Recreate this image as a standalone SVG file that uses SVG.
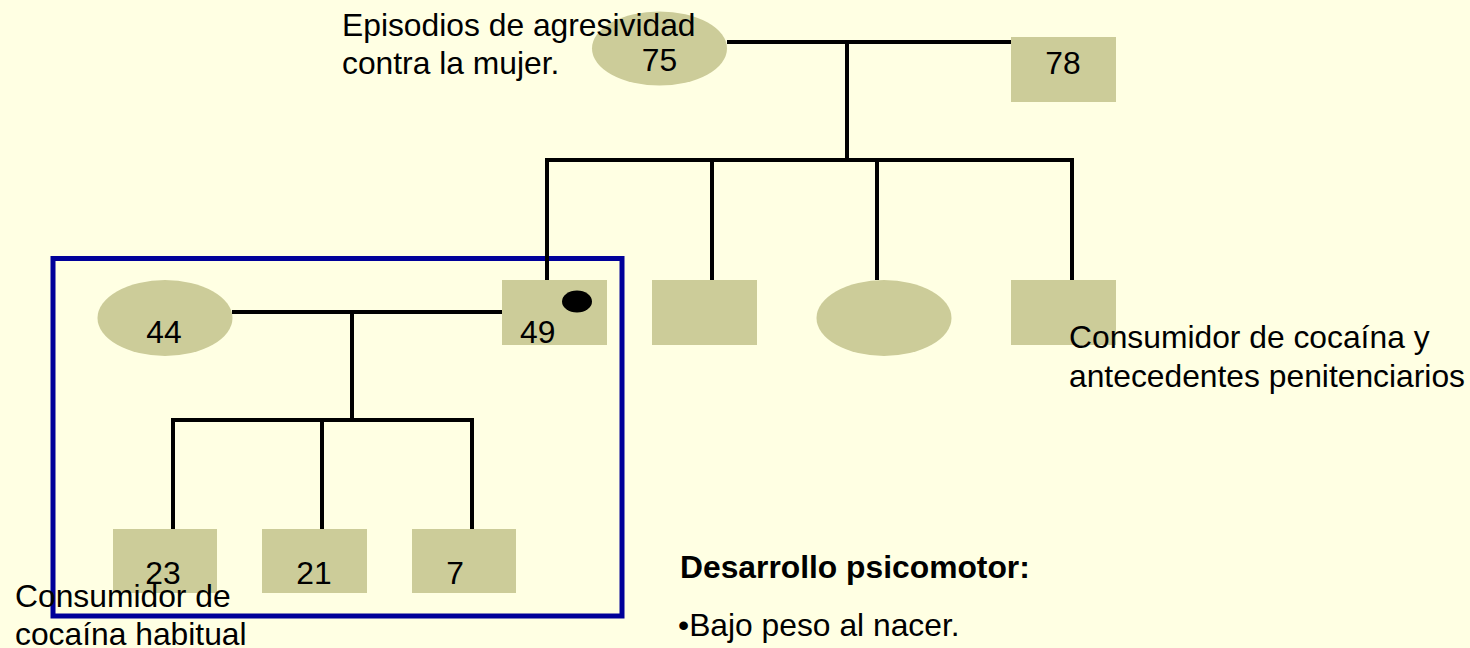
<svg xmlns="http://www.w3.org/2000/svg" width="1470" height="648" viewBox="0 0 1470 648">
<style>
.shape{fill:#CCCC99;stroke:none}
.lbl{font-family:"Liberation Sans",Arial,sans-serif;font-size:31.8px;fill:#000}
.mid{text-anchor:middle}
.b{font-weight:bold}
.con line{stroke:#000;stroke-width:4;stroke-linecap:butt}
</style>
<rect x="0" y="0" width="1470" height="648" fill="#FFFFE3"/>
<g id="family-box"><rect x="53" y="258.5" width="569" height="357.5" fill="none" stroke="#000099" stroke-width="5"/></g>
<g id="n75"><ellipse class="shape" cx="659.5" cy="48.5" rx="67.5" ry="37"/><text class="lbl mid" x="659.5" y="71">75</text></g>
<g id="n78"><rect class="shape" x="1011" y="37" width="105" height="65"/><text class="lbl mid" x="1063" y="74">78</text></g>
<g id="n49"><rect class="shape" x="502" y="280" width="105" height="65"/><ellipse cx="577" cy="301.5" rx="15" ry="11" fill="#000"/><text class="lbl" x="520" y="343">49</text></g>
<g id="sib2"><rect class="shape" x="652" y="280" width="105" height="65"/></g>
<g id="sib3"><ellipse class="shape" cx="884" cy="318" rx="67.5" ry="38"/></g>
<g id="sib4"><rect class="shape" x="1011" y="280" width="105" height="65"/></g>
<g id="n44"><ellipse class="shape" cx="165" cy="318" rx="67.5" ry="38"/><text class="lbl mid" x="164" y="343">44</text></g>
<g id="n23"><rect class="shape" x="113" y="529" width="104" height="64"/><text class="lbl mid" x="163" y="584">23</text></g>
<g id="n21"><rect class="shape" x="262" y="529" width="105" height="64"/><text class="lbl mid" x="314" y="584">21</text></g>
<g id="n7"><rect class="shape" x="412" y="529" width="104" height="64"/><text class="lbl mid" x="455" y="584">7</text></g>
<g id="connectors" class="con">
<line x1="727" y1="42" x2="1011" y2="42"/>
<line x1="847" y1="42" x2="847" y2="160"/>
<line x1="545" y1="160" x2="1074" y2="160"/>
<line x1="547" y1="160" x2="547" y2="280"/>
<line x1="712" y1="160" x2="712" y2="280"/>
<line x1="877" y1="160" x2="877" y2="280"/>
<line x1="1072" y1="160" x2="1072" y2="280"/>
<line x1="232" y1="312" x2="502" y2="312"/>
<line x1="352" y1="312" x2="352" y2="420"/>
<line x1="171" y1="420" x2="474" y2="420"/>
<line x1="173" y1="420" x2="173" y2="529"/>
<line x1="322" y1="420" x2="322" y2="529"/>
<line x1="472" y1="420" x2="472" y2="529"/>
</g>
<g id="notes">
<text class="lbl" x="342" y="36">Episodios de agresividad</text>
<text class="lbl" x="342" y="74">contra la mujer.</text>
<text class="lbl" x="1069" y="348">Consumidor de cocaína y</text>
<text class="lbl" x="1069" y="387">antecedentes penitenciarios</text>
<text class="lbl" x="15" y="607">Consumidor de</text>
<text class="lbl" x="15" y="645">cocaína habitual</text>
<text class="lbl b" x="680" y="578">Desarrollo psicomotor:</text>
<text class="lbl" x="678" y="636">•Bajo peso al nacer.</text>
</g>
</svg>
